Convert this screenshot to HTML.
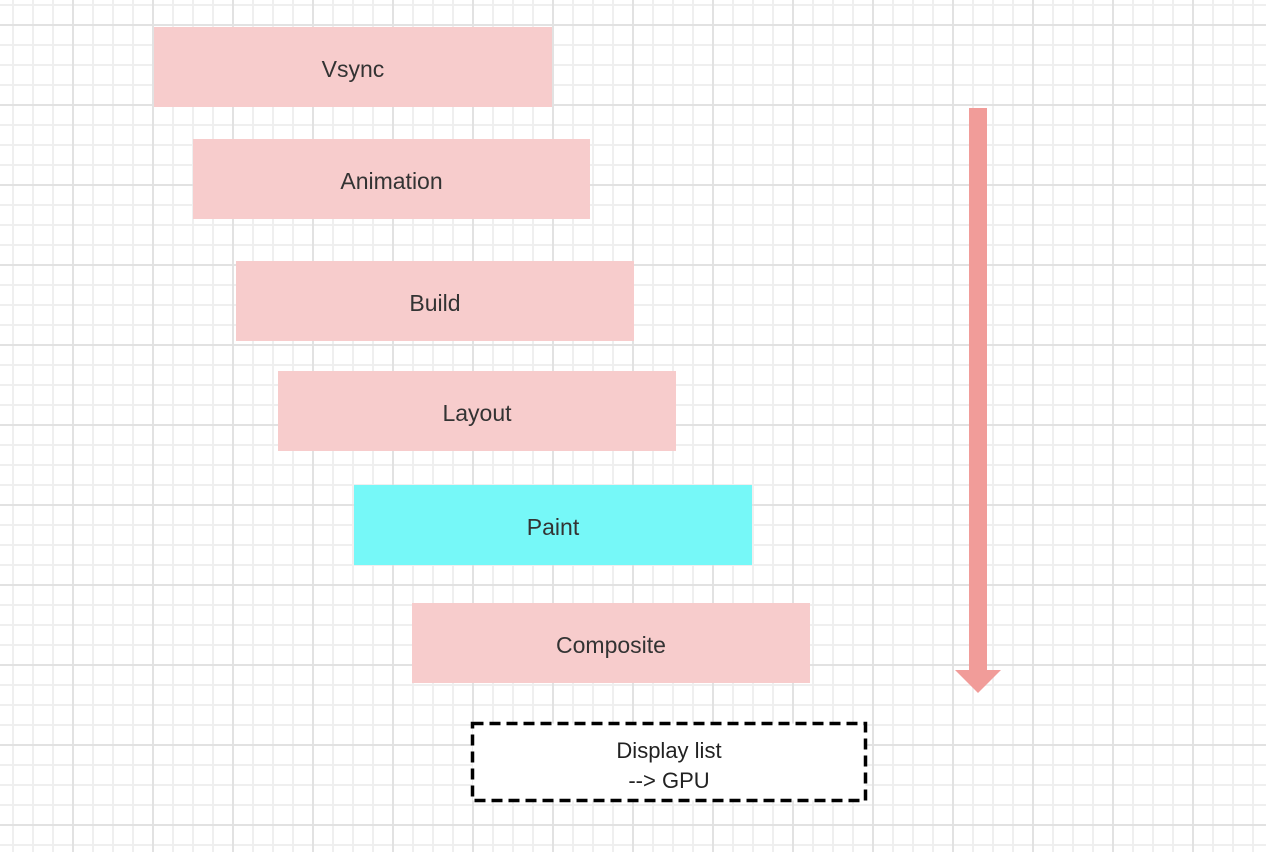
<!DOCTYPE html>
<html><head><style>
html,body{margin:0;padding:0}
body{width:1266px;height:852px;position:relative;overflow:hidden;background:#fff;
background-image:
linear-gradient(to right,#e2e2e2 0 2px,transparent 2px),
linear-gradient(to bottom,#e2e2e2 0 2px,transparent 2px),
linear-gradient(to right,#efefef 0 2px,transparent 2px),
linear-gradient(to bottom,#efefef 0 2px,transparent 2px);
background-size:80px 80px,80px 80px,20px 20px,20px 20px;
background-position:72px 0,0 24px,12px 0,0 4px;
font-family:"Liberation Sans",sans-serif;}
.b{position:absolute;background:#f7cccc;color:#333;font-size:23px;display:flex;align-items:center;justify-content:center;box-sizing:border-box;padding-top:4px;}
</style></head><body>
<div class="b" style="left:154px;top:27px;width:398px;height:80px">Vsync</div>
<div class="b" style="left:193px;top:139px;width:397px;height:80px">Animation</div>
<div class="b" style="left:236px;top:261px;width:398px;height:80px">Build</div>
<div class="b" style="left:278px;top:371px;width:398px;height:80px">Layout</div>
<div class="b" style="left:354px;top:485px;width:398px;height:80px;background:#76f8f8">Paint</div>
<div class="b" style="left:412px;top:603px;width:398px;height:80px">Composite</div>
<svg style="position:absolute;left:0;top:0" width="1266" height="852">
<rect x="472.5" y="723.5" width="393" height="77" fill="#fff" stroke="#000" stroke-width="3.5" stroke-dasharray="11 6"/>
<text x="669" y="758" text-anchor="middle" font-size="22" fill="#222" font-family="Liberation Sans, sans-serif">Display list</text>
<text x="669" y="788" text-anchor="middle" font-size="22" fill="#222" font-family="Liberation Sans, sans-serif">--&gt; GPU</text>
<rect x="969" y="108" width="18" height="563" fill="#f19c99"/>
<polygon points="955,670 1001,670 978,693" fill="#f19c99"/>
</svg>
</body></html>
